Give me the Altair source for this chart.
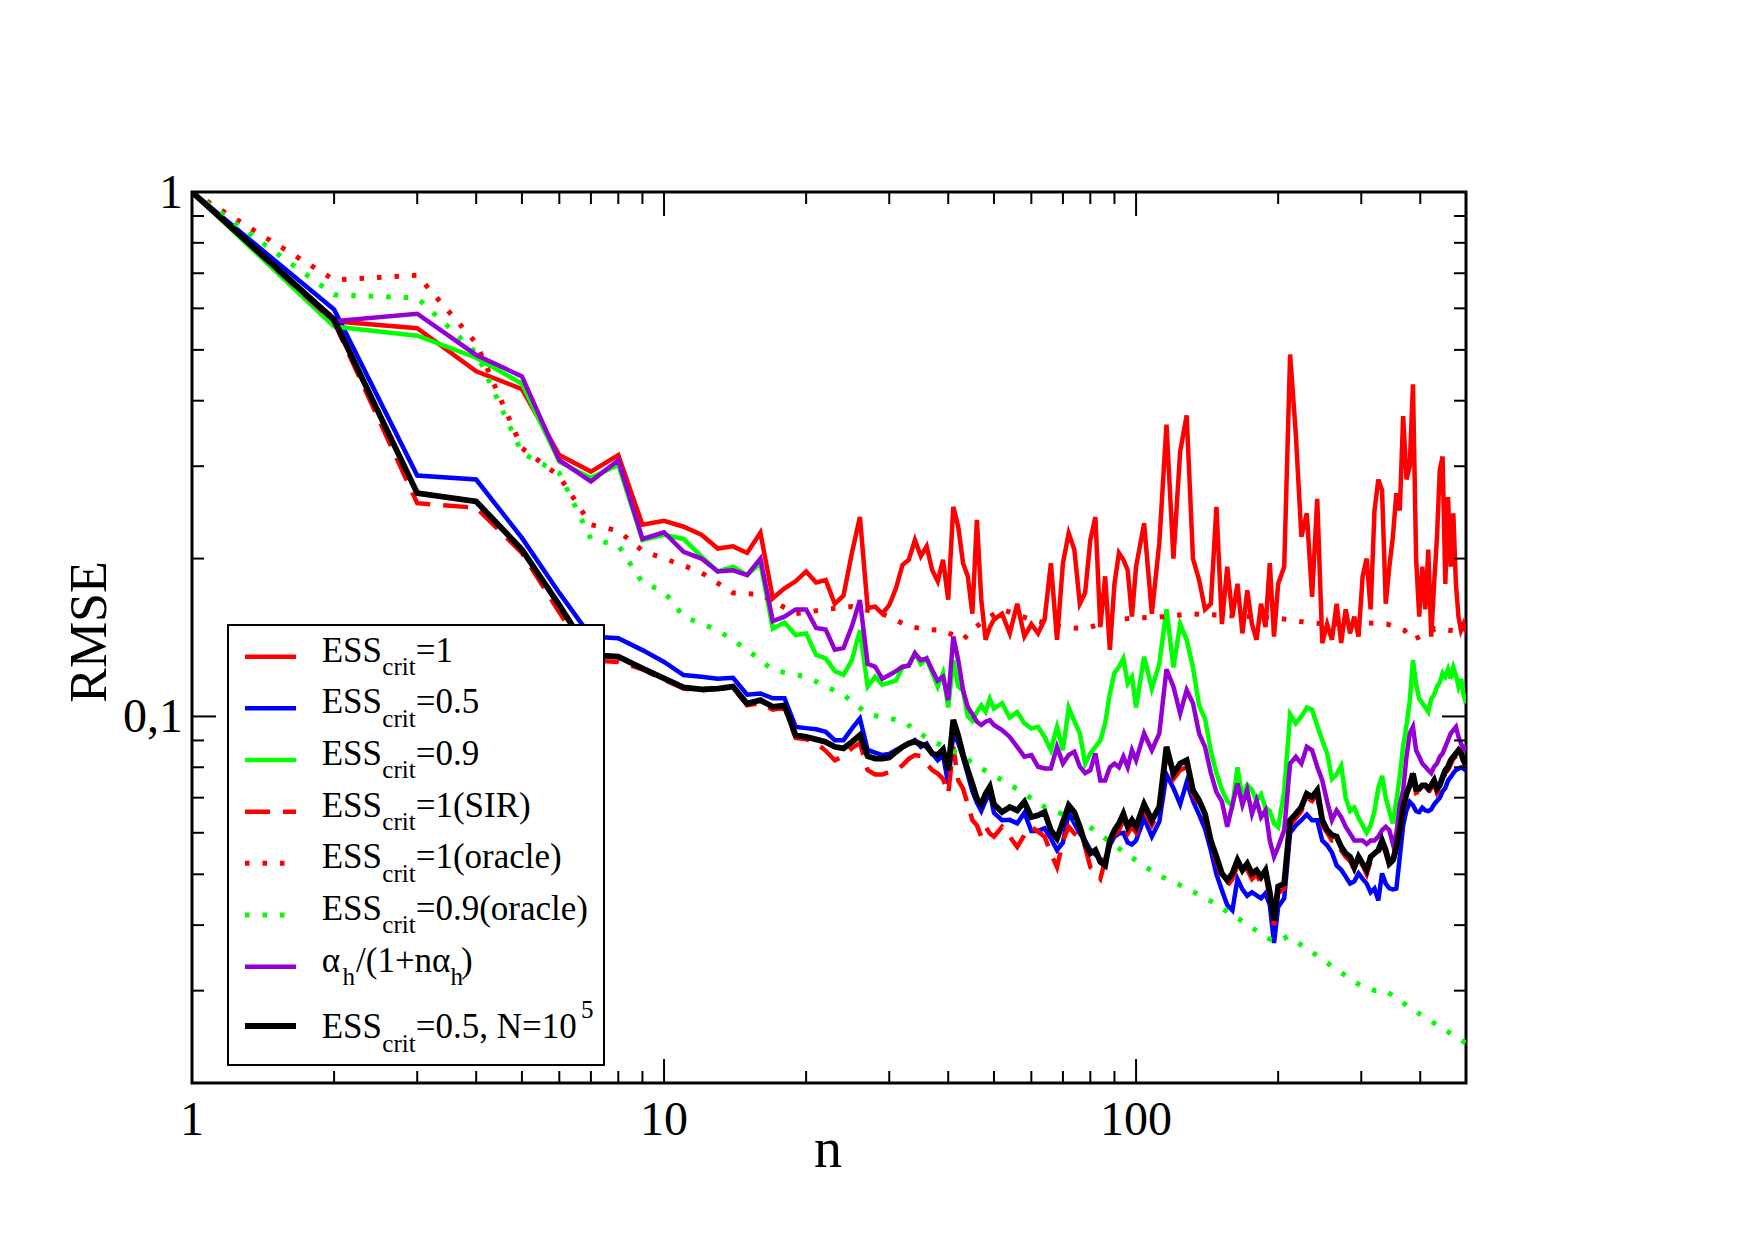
import altair as alt
import pandas as pd

# ---------------------------------------------------------------- data
# sample index n shared by the particle-filter curves
N_GRID = (list(range(1, 51)) + list(range(52, 101, 2))
          + list(range(104, 201, 4)) + list(range(206, 501, 6)))

ESS_1 = [
    1.0, 0.567, 0.55, 0.455, 0.421, 0.315, 0.293, 0.315, 0.232, 0.236,
    0.230, 0.222, 0.209, 0.211, 0.205, 0.224, 0.168, 0.1755, 0.181, 0.189,
    0.180, 0.182, 0.164, 0.170, 0.205, 0.240, 0.161, 0.162, 0.157, 0.163,
    0.1755, 0.1945, 0.199, 0.217, 0.202, 0.211, 0.190, 0.181, 0.199, 0.167,
    0.251, 0.230, 0.196, 0.185, 0.157, 0.237, 0.167, 0.140, 0.148, 0.153,
    0.157, 0.144, 0.164, 0.142, 0.150, 0.144, 0.153, 0.196, 0.140, 0.196,
    0.2235, 0.208, 0.164, 0.172, 0.217, 0.240, 0.148, 0.185, 0.134, 0.179,
    0.205, 0.199, 0.190, 0.155, 0.193,
    0.2335, 0.157, 0.214, 0.360, 0.200, 0.320, 0.375, 0.200, 0.182, 0.160,
    0.164, 0.251, 0.150, 0.193, 0.155, 0.179, 0.144, 0.174, 0.150, 0.140,
    0.164, 0.148, 0.196, 0.142, 0.179,
    0.193, 0.490, 0.345, 0.220, 0.244, 0.169, 0.260, 0.138, 0.150, 0.140,
    0.164, 0.138, 0.160, 0.144, 0.155, 0.142, 0.185, 0.200, 0.160, 0.247,
    0.283, 0.270, 0.164, 0.193, 0.220, 0.2665, 0.247, 0.374, 0.283, 0.300,
    0.430, 0.200, 0.155, 0.193, 0.160, 0.208, 0.142, 0.179, 0.220, 0.295,
    0.313, 0.179, 0.262, 0.193, 0.244, 0.179, 0.155, 0.146, 0.150, 0.145,
]

ESS_05 = [
    1.0, 0.597, 0.288, 0.283, 0.219, 0.172, 0.142, 0.141, 0.1338, 0.127,
    0.1199, 0.119, 0.118, 0.1185, 0.110, 0.1106, 0.1083, 0.1083, 0.0955, 0.095,
    0.0945, 0.0935, 0.0901, 0.0901, 0.0948, 0.0991, 0.0863, 0.0853, 0.0844, 0.0848,
    0.0863, 0.0875, 0.0888, 0.0901, 0.0875, 0.0888, 0.085, 0.0825, 0.0844, 0.0744,
    0.0928, 0.089, 0.0835, 0.0775, 0.072, 0.0685, 0.066, 0.069, 0.0715, 0.0655,
    0.0634, 0.0635, 0.0625, 0.0655, 0.0605, 0.0605, 0.0612, 0.0585, 0.0556, 0.0575,
    0.0655, 0.0625, 0.0598, 0.058, 0.0556, 0.0545, 0.0535, 0.0528, 0.0568, 0.059,
    0.0598, 0.060, 0.0575, 0.057, 0.058,
    0.064, 0.059, 0.063, 0.0775, 0.073, 0.068, 0.075, 0.069, 0.065, 0.061,
    0.0556, 0.050, 0.0466, 0.0437, 0.0427, 0.049, 0.0468, 0.0455, 0.0462, 0.0456,
    0.045, 0.046, 0.0437, 0.037, 0.0433,
    0.045, 0.060, 0.062, 0.0634, 0.065, 0.0634, 0.0634, 0.058, 0.0568, 0.055,
    0.052, 0.051, 0.0495, 0.048, 0.0485, 0.0502, 0.049, 0.048, 0.0462, 0.047,
    0.0446, 0.0502, 0.048, 0.047, 0.0468, 0.047, 0.054, 0.062, 0.0662, 0.0687,
    0.0677, 0.066, 0.0657, 0.067, 0.0662, 0.066, 0.0665, 0.068, 0.069, 0.070,
    0.072, 0.073, 0.0755, 0.0766, 0.078, 0.079, 0.0795, 0.080, 0.0795, 0.079,
]

ESS_09 = [
    1.0, 0.554, 0.532, 0.483, 0.431, 0.306, 0.285, 0.302, 0.217, 0.222,
    0.218, 0.202, 0.189, 0.193, 0.186, 0.196, 0.147, 0.151, 0.143, 0.144,
    0.131, 0.129, 0.122, 0.120, 0.128, 0.146, 0.114, 0.119, 0.115, 0.116,
    0.117, 0.124, 0.1255, 0.132, 0.126, 0.129, 0.121, 0.114, 0.121, 0.104,
    0.128, 0.114, 0.112, 0.100, 0.098, 0.102, 0.105, 0.102, 0.108, 0.1035,
    0.106, 0.0995, 0.102, 0.097, 0.0948, 0.0955, 0.0914, 0.0862, 0.0955, 0.0862,
    0.104, 0.098, 0.0928, 0.0813, 0.085, 0.0875, 0.090, 0.097, 0.1106, 0.121,
    0.1244, 0.129, 0.1156, 0.119, 0.104,
    0.130, 0.113, 0.126, 0.160, 0.124, 0.150, 0.140, 0.124, 0.105, 0.099,
    0.086, 0.078, 0.0725, 0.069, 0.0675, 0.080, 0.070, 0.074, 0.0725, 0.069,
    0.071, 0.067, 0.066, 0.0625, 0.0615,
    0.072, 0.101, 0.097, 0.100, 0.104, 0.103, 0.096, 0.090, 0.085, 0.076,
    0.0775, 0.0805, 0.070, 0.066, 0.067, 0.064, 0.062, 0.060, 0.062, 0.066,
    0.073, 0.077, 0.070, 0.066, 0.0625, 0.069, 0.077, 0.088, 0.096, 0.107,
    0.128, 0.115, 0.108, 0.106, 0.104, 0.102, 0.108, 0.110, 0.114, 0.116,
    0.121, 0.119, 0.123, 0.118, 0.124, 0.120, 0.114, 0.118, 0.110, 0.106,
]

ESS_1_SIR = [
    1.0, 0.565, 0.255, 0.250, 0.205, 0.158, 0.128, 0.127, 0.123, 0.1175,
    0.113, 0.112, 0.113, 0.1135, 0.105, 0.106, 0.103, 0.104, 0.091, 0.0905,
    0.089, 0.086, 0.0825, 0.084, 0.087, 0.089, 0.079, 0.0775, 0.0775, 0.0784,
    0.079, 0.0807, 0.083, 0.0844, 0.084, 0.0813, 0.079, 0.0778, 0.076, 0.0712,
    0.0875, 0.0755, 0.0728, 0.068, 0.0634, 0.062, 0.059, 0.0616, 0.0598, 0.059,
    0.0616, 0.059, 0.0564, 0.0594, 0.0616, 0.0603, 0.059, 0.0548, 0.0516, 0.058,
    0.0616, 0.0598, 0.059, 0.0564, 0.0516, 0.0505, 0.049, 0.0532, 0.058, 0.0594,
    0.0607, 0.0634, 0.0598, 0.0616, 0.060,
    0.066, 0.062, 0.066, 0.085, 0.076, 0.079, 0.080, 0.071, 0.068, 0.064,
    0.057, 0.053, 0.049, 0.0475, 0.049, 0.052, 0.050, 0.051, 0.049, 0.050,
    0.048, 0.050, 0.045, 0.040, 0.046,
    0.047, 0.062, 0.064, 0.066, 0.070, 0.069, 0.071, 0.062, 0.060, 0.058,
    0.058, 0.0555, 0.054, 0.053, 0.051, 0.053, 0.052, 0.050, 0.053, 0.054,
    0.055, 0.057, 0.055, 0.052, 0.0525, 0.0555, 0.060, 0.066, 0.070, 0.073,
    0.076, 0.0715, 0.072, 0.073, 0.0725, 0.0715, 0.073, 0.0745, 0.0715, 0.073,
    0.0755, 0.078, 0.079, 0.081, 0.083, 0.084, 0.085, 0.084, 0.082, 0.080,
]

ALPHA_H = [
    1.0, 0.567, 0.586, 0.489, 0.445, 0.308, 0.2805, 0.308, 0.218, 0.2245,
    0.206, 0.200, 0.189, 0.190, 0.186, 0.200, 0.152, 0.155, 0.160, 0.160,
    0.1475, 0.1465, 0.134, 0.135, 0.1485, 0.1667, 0.126, 0.1244, 0.118, 0.120,
    0.122, 0.1244, 0.125, 0.132, 0.128, 0.129, 0.1226, 0.117, 0.119, 0.1074,
    0.142, 0.128, 0.1122, 0.1043, 0.101, 0.0977, 0.0963, 0.0977, 0.0984, 0.0963,
    0.0942, 0.0914, 0.0875, 0.0838, 0.0844, 0.0802, 0.0796, 0.0796, 0.0875, 0.0813,
    0.0844, 0.0856, 0.0802, 0.078, 0.079, 0.085, 0.0755, 0.0755, 0.080, 0.0813,
    0.080, 0.0838, 0.080, 0.0862, 0.0825,
    0.0928, 0.0862, 0.0928, 0.123, 0.114, 0.1013, 0.1123, 0.106, 0.0928, 0.0875,
    0.078, 0.0717, 0.0688, 0.0616, 0.0678, 0.0745, 0.0678, 0.0723, 0.0652, 0.0692,
    0.0643, 0.0662, 0.058, 0.054, 0.0564,
    0.0607, 0.0813, 0.0838, 0.0813, 0.0875, 0.0862, 0.0802, 0.0755, 0.0688, 0.0634,
    0.0662, 0.0643, 0.0616, 0.0598, 0.058, 0.058, 0.058, 0.0571, 0.058, 0.058,
    0.059, 0.0607, 0.0616, 0.0607, 0.0571, 0.0598, 0.0678, 0.0723, 0.0838, 0.0928,
    0.0955, 0.0862, 0.0838, 0.0813, 0.0802, 0.079, 0.078, 0.0802, 0.0813, 0.0838,
    0.085, 0.0875, 0.0901, 0.0928, 0.0942, 0.0955, 0.0914, 0.0888, 0.0862, 0.088,
]

ESS_05_N1E5 = [
    1.0, 0.571, 0.2665, 0.257, 0.208, 0.163, 0.131, 0.130, 0.1235, 0.1182,
    0.1136, 0.1126, 0.113, 0.114, 0.1058, 0.1074, 0.1043, 0.105, 0.0921, 0.0914,
    0.0904, 0.0894, 0.0875, 0.0869, 0.0894, 0.0921, 0.084, 0.0831, 0.0831, 0.0835,
    0.0856, 0.0875, 0.0888, 0.0895, 0.0885, 0.0878, 0.085, 0.0844, 0.0865, 0.079,
    0.0985, 0.092, 0.0844, 0.079, 0.0744, 0.0697, 0.068, 0.0712, 0.0734, 0.068,
    0.0657, 0.0672, 0.0662, 0.0687, 0.0643, 0.0648, 0.0657, 0.0607, 0.0585, 0.063,
    0.0677, 0.0657, 0.0616, 0.0572, 0.0548, 0.0556, 0.0528, 0.052, 0.058, 0.0607,
    0.0625, 0.0652, 0.0616, 0.0634, 0.0616,
    0.068, 0.0634, 0.0672, 0.0875, 0.0778, 0.0813, 0.0825, 0.0723, 0.0692, 0.0652,
    0.058, 0.054, 0.0502, 0.0487, 0.0502, 0.0532, 0.0509, 0.0524, 0.0502, 0.0509,
    0.0494, 0.0509, 0.0462, 0.0408, 0.0474,
    0.048, 0.0634, 0.0652, 0.0672, 0.0712, 0.0702, 0.0723, 0.0634, 0.0607, 0.0594,
    0.059, 0.0564, 0.0548, 0.054, 0.0516, 0.054, 0.0524, 0.0509, 0.054, 0.0548,
    0.0556, 0.058, 0.0556, 0.0524, 0.0532, 0.0564, 0.0607, 0.0672, 0.0712, 0.0739,
    0.0778, 0.0728, 0.0728, 0.0739, 0.0739, 0.0728, 0.0739, 0.0755, 0.0728, 0.0739,
    0.0766, 0.079, 0.0802, 0.0825, 0.0838, 0.085, 0.0862, 0.085, 0.0825, 0.0807,
]

# oracle runs are smooth, so they carry their own (sparser) n values
ORACLE_1_N = [1, 2, 3, 4, 5, 6, 7, 8, 9, 10, 11, 12,
              14, 16, 19, 22, 25, 29, 33, 36, 39, 43, 45, 49, 52,
              60, 70, 78, 90, 100, 115, 130, 150, 175, 200,
              230, 260, 300, 340, 370, 385, 400, 430, 460, 500]
ORACLE_1 = [1.0, 0.68, 0.694, 0.515, 0.325, 0.287, 0.232, 0.226, 0.207, 0.200, 0.194, 0.188,
            0.172, 0.171, 0.157, 0.160, 0.162, 0.157, 0.1485, 0.1465, 0.146, 0.140, 0.1465, 0.155, 0.160,
            0.153, 0.148, 0.147, 0.153, 0.154, 0.155, 0.157, 0.156, 0.155, 0.154,
            0.151, 0.150, 0.151, 0.150, 0.146, 0.140, 0.142, 0.147, 0.146, 0.145]

ORACLE_09_N = [1, 2, 3, 4, 5, 6, 7, 8, 9, 10, 11,
               13, 15, 17, 20, 24, 27, 32, 36, 42, 47,
               55, 64, 78, 95, 111, 125, 142, 165, 191, 200,
               210, 243, 261, 302, 321, 336, 388, 449, 484, 500]
ORACLE_09 = [1.0, 0.637, 0.628, 0.494, 0.318, 0.291, 0.218, 0.212, 0.180, 0.173, 0.155,
             0.146, 0.134, 0.1226, 0.119, 0.110, 0.101, 0.098, 0.091, 0.085, 0.0796,
             0.0734, 0.0672, 0.0625, 0.0548, 0.0499, 0.0475, 0.0448, 0.0411, 0.0377, 0.0372,
             0.0381, 0.0349, 0.0333, 0.0305, 0.0300, 0.0301, 0.0275, 0.0253, 0.0243, 0.0238]

# axis ticks and labels
X_LABELS = [1, 10, 100]
X_LABEL_TEXT = ["1", "10", "100"]
Y_LABELS = [1, 0.1]
Y_LABEL_TEXT = ["1", "0,1"]
X_MAJOR = [10, 100]
X_MINOR = [2, 3, 4, 5, 6, 7, 8, 9, 20, 30, 40, 50, 60, 70, 80, 90, 200, 300, 400]
Y_MAJOR = [0.1]
Y_MINOR = [0.9, 0.8, 0.7, 0.6, 0.5, 0.4, 0.3, 0.2,
           0.09, 0.08, 0.07, 0.06, 0.05, 0.04, 0.03]

for vals in (ESS_1, ESS_05, ESS_09, ESS_1_SIR, ALPHA_H, ESS_05_N1E5):
    assert len(vals) == len(N_GRID), len(vals)
assert len(ORACLE_1) == len(ORACLE_1_N)
assert len(ORACLE_09) == len(ORACLE_09_N)

# ---------------------------------------------------------------- layout
W, H = 1274, 891
FONT = "Liberation Serif"
RED, BLUE, GREEN, VIOLET, BLACK = "#ff0000", "#0000ff", "#00ff00", "#9400d3", "#000000"
DASH = [25, 13]
DOT = [4.5, 13]

xs = alt.Scale(type="log", domain=[1, 500], nice=False)
ys = alt.Scale(type="log", domain=[0.02, 1], nice=False)

SERIES = [
    (N_GRID, ESS_1, RED, None, 4.5),
    (N_GRID, ESS_05, BLUE, None, 4.5),
    (N_GRID, ESS_09, GREEN, None, 4.5),
    (N_GRID, ESS_1_SIR, RED, DASH, 4.5),
    (ORACLE_1_N, ORACLE_1, RED, DOT, 5.0),
    (ORACLE_09_N, ORACLE_09, GREEN, DOT, 5.0),
    (N_GRID, ALPHA_H, VIOLET, None, 4.5),
    (N_GRID, ESS_05_N1E5, BLACK, None, 5.8),
]


def line_style(color, dash, width):
    style = dict(color=color, strokeWidth=width)
    if dash:
        style["strokeDash"] = dash
    return style


layers = []
for ns, vals, color, dash, width in SERIES:
    df = pd.DataFrame({"n": ns, "rmse": vals})
    layers.append(
        alt.Chart(df).mark_line(clip=True, **line_style(color, dash, width)).encode(
            x=alt.X("n:Q", scale=xs, axis=None),
            y=alt.Y("rmse:Q", scale=ys, axis=None),
        )
    )

one_row = pd.DataFrame({"k": [0]})


def text_at(text, px, py, size, align="left", angle=0):
    kw = dict(font=FONT, fontSize=size, align=align, baseline="alphabetic", color="black")
    if angle:
        kw["angle"] = angle
    return alt.Chart(one_row).mark_text(**kw).encode(
        x=alt.value(px), y=alt.value(py), text=alt.value(text)
    )


# legend frame
LEG_X0, LEG_X1, LEG_Y0, LEG_Y1 = 36, 412, 433, 873
layers.append(
    alt.Chart(one_row).mark_rect(fill="white", stroke="black", strokeWidth=2).encode(
        x=alt.value(LEG_X0), x2=alt.value(LEG_X1),
        y=alt.value(LEG_Y0), y2=alt.value(LEG_Y1),
    )
)

# legend rows: sample line position and text pieces (text, role, x)
ROW_Y = [464.7, 516.3, 568.0, 619.7, 671.3, 723.0, 774.7, 834.0]
ESS_ROWS = ["=1", "=0.5", "=0.9", "=1(SIR)", "=1(oracle)", "=0.9(oracle)"]
rows_text = [[("ESS", "main", 129.7), ("crit", "sub", 190.3), (rest, "main", 223.7)]
             for rest in ESS_ROWS]
rows_text.append([("\u03b1", "main", 129.7), ("h", "sub", 150.5),
                  ("/(1+n\u03b1", "main", 164.0), ("h", "sub", 258.5), (")", "main", 269.0)])
rows_text.append([("ESS", "main", 129.7), ("crit", "sub", 190.3),
                  ("=0.5, N=10", "main", 223.7), ("5", "sup", 389.0)])

for i, ((_, _, color, dash, width), pieces) in enumerate(zip(SERIES, rows_text)):
    y = ROW_Y[i]
    layers.append(
        alt.Chart(one_row).mark_rule(**line_style(color, dash, width)).encode(
            x=alt.value(53), x2=alt.value(104), y=alt.value(y)
        )
    )
    main_dy, sub_dy = (12.3, 25.7) if i == 7 else (5.0, 18.3)
    for text, role, px in pieces:
        if role == "main":
            layers.append(text_at(text, px, y + main_dy, 35))
        elif role == "sub":
            layers.append(text_at(text, px, y + sub_dy, 25))
        else:
            layers.append(text_at(text, px, y - 7.7, 25))

# inward ticks on all four sides
TICK_W = 2


def x_ticks(vals, length):
    df = pd.DataFrame({"n": vals})
    return [
        alt.Chart(df).mark_rule(color="black", strokeWidth=TICK_W).encode(
            x=alt.X("n:Q", scale=xs, axis=None), y=alt.value(y0), y2=alt.value(y1)
        )
        for y0, y1 in ((H, H - length), (0, length))
    ]


def y_ticks(vals, length):
    df = pd.DataFrame({"rmse": vals})
    return [
        alt.Chart(df).mark_rule(color="black", strokeWidth=TICK_W).encode(
            y=alt.Y("rmse:Q", scale=ys, axis=None), x=alt.value(x0), x2=alt.value(x1)
        )
        for x0, x1 in ((0, length), (W, W - length))
    ]


layers += x_ticks(X_MAJOR, 24) + x_ticks(X_MINOR, 12)
layers += y_ticks(Y_MAJOR, 24) + y_ticks(Y_MINOR, 12)

# tick labels, positioned through the same log scales
x_lab = pd.DataFrame({"n": X_LABELS, "label": X_LABEL_TEXT})
layers.append(
    alt.Chart(x_lab).mark_text(font=FONT, fontSize=48, align="center",
                               baseline="alphabetic", color="black").encode(
        x=alt.X("n:Q", scale=xs, axis=None), y=alt.value(H + 52), text="label:N"
    )
)
y_lab = pd.DataFrame({"rmse": Y_LABELS, "label": Y_LABEL_TEXT})
layers.append(
    alt.Chart(y_lab).mark_text(font=FONT, fontSize=48, align="right",
                               baseline="alphabetic", dy=16, color="black").encode(
        y=alt.Y("rmse:Q", scale=ys, axis=None), x=alt.value(-9), text="label:N"
    )
)

# axis titles
layers.append(text_at("n", 636, H + 84, 56, align="center"))
layers.append(text_at("RMSE", -86, 440, 52, align="center", angle=270))

chart = (
    alt.layer(*layers)
    .properties(
        width=W, height=H,
        padding={"left": 192, "top": 192, "right": 289, "bottom": 157},
        autosize=alt.AutoSizeParams(type="none"),
        background="white",
    )
    .configure_view(stroke="black", strokeWidth=3)
)

chart.save("out.html", embed_options={"renderer": "svg", "actions": False})
